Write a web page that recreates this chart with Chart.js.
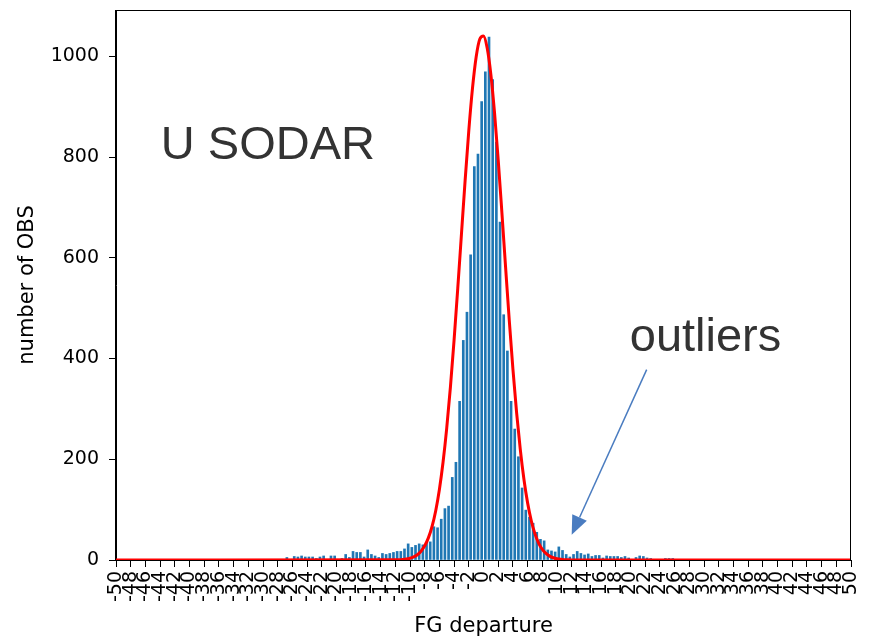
<!DOCTYPE html>
<html>
<head>
<meta charset="utf-8">
<script src="https://cdn.jsdelivr.net/npm/chart.js@4.4.1/dist/chart.umd.min.js"></script>
<style>
html,body{margin:0;padding:0;background:#ffffff;}
#wrap{width:870px;height:640px;position:relative;}
</style>
</head>
<body>
<div id="wrap"><canvas id="c" width="870" height="640"></canvas></div>
<script>
// ---- histogram bins (centres of 0.5-wide bins) ----
const binCenters = [
  -26.75,-26.25,-25.75,-25.25,-24.75,-24.25,-23.75,-23.25,-22.75,-22.25,
  -21.75,-21.25,-20.75,-20.25,-19.75,-19.25,-18.75,-18.25,-17.75,-17.25,
  -16.75,-16.25,-15.75,-15.25,-14.75,-14.25,-13.75,-13.25,-12.75,-12.25,
  -11.75,-11.25,-10.75,-10.25,-9.75,-9.25,-8.75,-8.25,-7.75,-7.25,
  -6.75,-6.25,-5.75,-5.25,-4.75,-4.25,-3.75,-3.25,-2.75,-2.25,
  -1.75,-1.25,-0.75,-0.25,0.25,0.75,1.25,1.75,2.25,2.75,
  3.25,3.75,4.25,4.75,5.25,5.75,6.25,6.75,7.25,7.75,
  8.25,8.75,9.25,9.75,10.25,10.75,11.25,11.75,12.25,12.75,
  13.25,13.75,14.25,14.75,15.25,15.75,16.25,16.75,17.25,17.75,
  18.25,18.75,19.25,19.75,20.25,20.75,21.25,21.75,22.25,22.75,
  23.25,23.75,24.25,24.75,25.25,25.75
];
const obsCounts = [
  5,0,7,6,8,6,6,6,3,6,
  8,0,8,8,0,3,11,5,17,15,
  15,6,20,11,8,5,13,11,13,15,
  17,17,22,32,25,29,32,30,33,36,
  66,64,81,102,107,164,194,315,436,492,
  606,781,806,910,969,1038,954,830,671,487,
  415,315,260,205,143,99,85,73,55,41,
  38,20,18,16,26,19,11,6,11,17,
  13,10,12,7,9,9,4,8,7,7,
  7,5,7,4,0,5,8,7,4,3,
  0,0,0,3,3,3
];

// ---- fitted curve (red) ----
const fitX = [
  -50,
  -12,-11.5,-11,-10.5,-10,-9.5,-9,-8.5,-8,-7.5,-7,-6.5,-6,-5.5,-5,-4.5,-4,-3.5,-3,-2.5,-2,-1.5,-1,-0.5,
  0,0.5,1,1.5,2,2.5,3,3.5,4,4.5,5,5.5,6,6.5,7,7.5,8,8.5,9,9.5,10,10.5,11,11.5,12,
  50
];
const fitY = [
  0,
  0.3,0.5,1.0,1.9,3.5,6.2,10.5,17.5,28.1,43.9,66.5,97.9,140.0,194.5,262.4,343.5,436.9,539.7,647.2,753.8,852.6,936.3,998.8,1034.5,
  1040.6,1016.5,964.3,888.3,794.6,690.3,582.4,477.0,379.5,293.2,220.0,160.3,113.4,77.9,52.0,33.7,21.2,13.0,7.7,4.4,2.5,1.3,0.7,0.4,0.2,
  0
];

// ---- ticks ----
const xTickValues = [-50,-48,-46,-44,-42,-40,-38,-36,-34,-32,-30,-28,-26,-24,-22,-20,-18,-16,-14,-12,-10,-8,-6,-4,-2,
  0,2,4,6,8,10,12,14,16,18,20,22,24,26,28,30,32,34,36,38,40,42,44,46,48,50];
const xTickLabels = ['-50','-48','-46','-44','-42','-40','-38','-36','-34','-32','-30','-28','-26','-24','-22','-20','-18','-16','-14','-12','-10','-8','-6','-4','-2',
  '0','2','4','6','8','10','12','14','16','18','20','22','24','26','28','30','32','34','36','38','40','42','44','46','48','50'];
const yTickValues = [0,200,400,600,800,1000];
const yTickLabels = ['0','200','400','600','800','1000'];

// ---- texts / annotation (in data units) ----
const titleText = 'U SODAR';
const titleAt = [-43.9, 797];
const noteText = 'outliers';
const noteAt = [19.9, 414];
const arrowFrom = [22.2, 378];
const arrowTo = [12.0, 50];

const tickFont = {family: '"DejaVu Sans", sans-serif', size: 19};
const axisTitleFont = {family: '"DejaVu Sans", sans-serif', size: 21};

const framePlugin = {
  id: 'frameAndNotes',
  afterDraw(chart) {
    const {ctx, chartArea: a, scales: {x, y}} = chart;
    ctx.save();
    ctx.strokeStyle = '#000';
    ctx.lineWidth = 1;
    ctx.strokeRect(Math.round(a.left) - 0.5, Math.round(a.top) + 0.5,
                   Math.round(a.right - a.left), Math.round(a.bottom - a.top));
    // texts
    ctx.fillStyle = '#333333';
    ctx.font = '47px "Liberation Sans", Arial, sans-serif';
    ctx.textAlign = 'left';
    ctx.textBaseline = 'alphabetic';
    ctx.fillText(titleText, x.getPixelForValue(titleAt[0]), y.getPixelForValue(titleAt[1]));
    ctx.fillText(noteText, x.getPixelForValue(noteAt[0]), y.getPixelForValue(noteAt[1]));
    // arrow
    const x0 = x.getPixelForValue(arrowFrom[0]), y0 = y.getPixelForValue(arrowFrom[1]);
    const x1 = x.getPixelForValue(arrowTo[0]), y1 = y.getPixelForValue(arrowTo[1]);
    const dx = x1 - x0, dy = y1 - y0, len = Math.hypot(dx, dy);
    const ux = dx / len, uy = dy / len;
    const headLen = 19, headHalf = 8;
    const bx = x1 - ux * headLen, by = y1 - uy * headLen;
    ctx.strokeStyle = '#4a7cc0';
    ctx.fillStyle = '#4a7cc0';
    ctx.lineWidth = 1.5;
    ctx.beginPath();
    ctx.moveTo(x0, y0);
    ctx.lineTo(bx, by);
    ctx.stroke();
    ctx.beginPath();
    ctx.moveTo(x1, y1);
    ctx.lineTo(bx - uy * headHalf, by + ux * headHalf);
    ctx.lineTo(bx + uy * headHalf, by - ux * headHalf);
    ctx.closePath();
    ctx.fill();
    ctx.restore();
  }
};

new Chart(document.getElementById('c'), {
  type: 'bar',
  data: {
    datasets: [
      {
        type: 'line',
        label: 'fit',
        data: fitX.map((v, i) => ({x: v, y: fitY[i]})),
        borderColor: '#ff0000',
        borderWidth: 3,
        pointRadius: 0,
        cubicInterpolationMode: 'monotone',
        fill: false,
        order: 0
      },
      {
        type: 'bar',
        label: 'OBS',
        data: binCenters.map((v, i) => ({x: v, y: obsCounts[i]})),
        backgroundColor: '#1f77b4',
        borderWidth: 0,
        barThickness: 2.0,
        order: 1
      }
    ]
  },
  options: {
    responsive: false,
    animation: false,
    devicePixelRatio: 1,
    layout: {padding: {left: 0, right: 19, top: 10, bottom: 0}},
    plugins: {legend: {display: false}, tooltip: {enabled: false}},
    scales: {
      x: {
        type: 'linear',
        min: -50, max: 50,
        offset: false,
        afterBuildTicks: s => { s.ticks = xTickValues.map(v => ({value: v})); },
        afterFit: s => { s.height = 80; s.paddingLeft = 0; s.paddingRight = 0; s.paddingTop = 0; s.paddingBottom = 0; },
        ticks: {
          autoSkip: false, minRotation: 90, maxRotation: 90, padding: 4,
          font: tickFont, color: '#000',
          callback: (v, i) => xTickLabels[i]
        },
        grid: {drawOnChartArea: false, drawTicks: true, tickLength: 7, color: '#000', offset: false},
        border: {display: true, color: '#000', width: 1},
        title: {display: true, text: 'FG departure', font: axisTitleFont, color: '#000', padding: {top: 0, bottom: 1}}
      },
      y: {
        type: 'linear',
        min: 0, max: 1092,
        afterBuildTicks: s => { s.ticks = yTickValues.map(v => ({value: v})); },
        afterFit: s => { s.width = 116; s.paddingLeft = 0; s.paddingRight = 0; s.paddingTop = 0; s.paddingBottom = 0; },
        ticks: {
          padding: 10, font: tickFont, color: '#000',
          callback: (v, i) => yTickLabels[i]
        },
        grid: {drawOnChartArea: false, drawTicks: true, tickLength: 7, color: '#000'},
        border: {display: true, color: '#000', width: 1},
        title: {display: true, text: 'number of OBS', font: axisTitleFont, color: '#000', padding: {top: 15, bottom: 0}}
      }
    }
  },
  plugins: [framePlugin]
});
</script>
</body>
</html>
